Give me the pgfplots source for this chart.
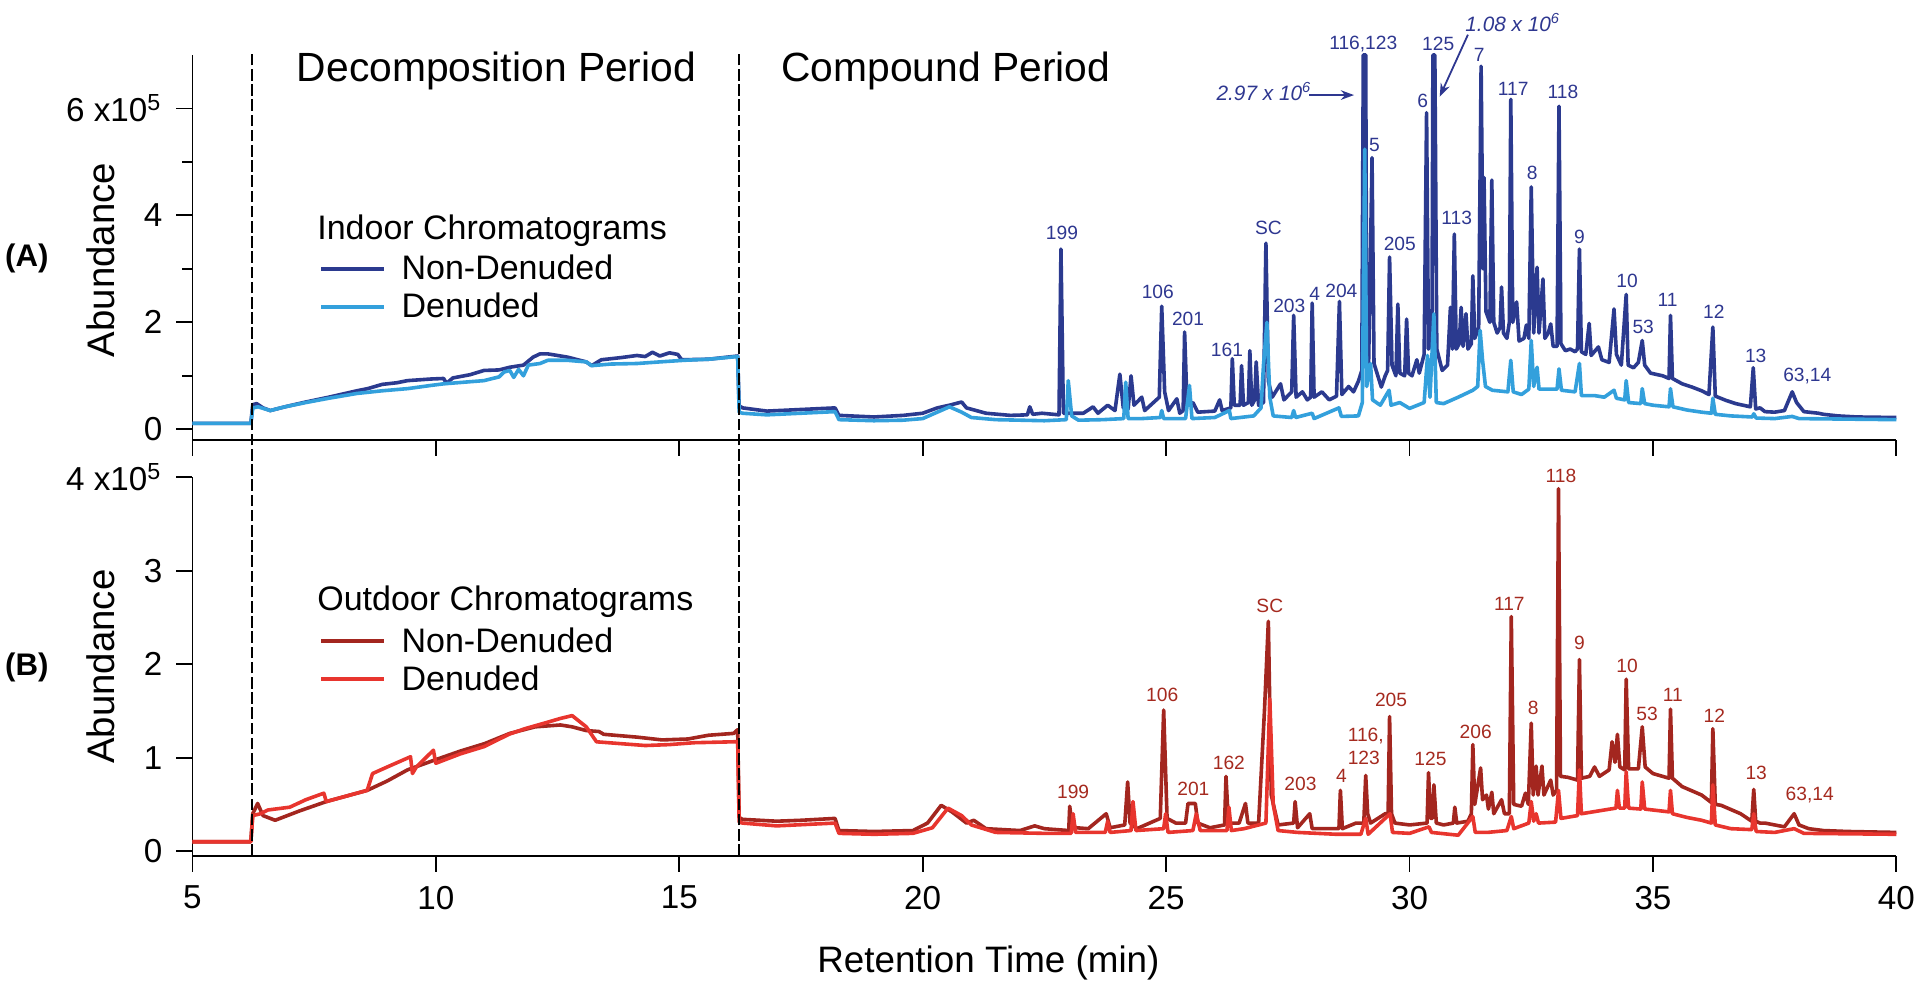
\documentclass[border=0pt]{standalone}
\usepackage{fontspec}
\setmainfont{Liberation Sans}
\usepackage{pgfplots}
\pgfplotsset{compat=1.18}
\usetikzlibrary{arrows.meta}

\definecolor{inND}{HTML}{2B3A8F}
\definecolor{inD}{HTML}{33A0DC}
\definecolor{outND}{HTML}{A3261F}
\definecolor{outD}{HTML}{E8352E}
\definecolor{inlab}{HTML}{2E3790}
\definecolor{outlab}{HTML}{A52A1F}

\newcommand\ticksize{\fontsize{8.3}{9}\selectfont}
\newcommand\pksize{\fontsize{4.8}{5.7}\selectfont}
\newcommand\legsize{\fontsize{8.5}{10}\selectfont}

\pgfplotsset{
  chrom/.style={
    scale only axis, width=426pt,
    xmin=5, xmax=40,
    axis x line*=bottom, axis y line*=left,
    axis line style={-, line width=0.45pt},
    tick align=outside,
    major tick length=4pt, minor tick length=2.5pt,
    tick style={black, line width=0.45pt},
    xtick={5,10,15,20,25,30,35,40},
    yticklabel style={font=\ticksize},
    xticklabel style={font=\ticksize},
    every axis plot/.append style={line width=0.9pt, line join=round},
    clip=false,
  },
}
\tikzset{
  pkA/.style={font=\pksize, text=inlab, inner sep=0pt},
  pkB/.style={font=\pksize, text=outlab, inner sep=0pt},
  period/.style={font=\fontsize{10.2}{12}\selectfont, anchor=west, inner sep=0pt},
  leg/.style={font=\legsize, anchor=west, inner sep=0pt},
  sep/.style={black, line width=0.5pt, dash pattern=on 2.9pt off 0.9pt},
}

\begin{document}
\begin{tikzpicture}
\useasboundingbox (0,0) rectangle (480pt,247.75pt);

% ---------------- (A) indoor ----------------
\begin{axis}[chrom,
  at={(48.1pt,137.75pt)}, anchor=south west, height=96.25pt,
  ymin=-0.2, ymax=7,
  ytick={0,2,4,6}, minor ytick={1,3,5},
  yticklabels={0,2,4,{6 x10\textsuperscript{5}}},
  xticklabels={,,,,,,,},
  xticklabel style={text opacity=0},
]
\addplot[inND] coordinates {
(5.00,0.11) (6.20,0.11) (6.24,0.46) (6.32,0.48) (6.45,0.40) (6.60,0.35) (6.90,0.42)
(7.33,0.51) (7.80,0.60) (8.38,0.72) (8.60,0.76) (8.90,0.84) (9.20,0.87) (9.42,0.91) (9.90,0.94) (10.16,0.95)
(10.22,0.86) (10.35,0.96) (10.70,1.02) (10.99,1.10) (11.30,1.11) (11.52,1.16) (11.80,1.20) (12.00,1.35) (12.14,1.41)
(12.30,1.41) (12.70,1.35) (13.09,1.26) (13.20,1.19) (13.40,1.30) (13.80,1.34) (14.13,1.38)
(14.30,1.36) (14.45,1.44) (14.60,1.37) (14.80,1.43) (14.97,1.40) (15.05,1.30) (15.60,1.31)
(16.20,1.37) (16.23,0.44) (16.30,0.40) (16.80,0.34) (17.50,0.37) (18.20,0.40) (18.28,0.26)
(19.00,0.23) (19.60,0.26) (20.00,0.30) (20.30,0.40) (20.55,0.45) (20.80,0.51) (20.90,0.40)
(21.30,0.30) (21.80,0.26) (22.15,0.27) (22.20,0.42) (22.26,0.28) (22.45,0.30) (22.80,0.27)
(22.84,3.37) (22.89,0.30) (23.30,0.30) (23.50,0.42) (23.60,0.30) (23.80,0.45) (23.95,0.35)
(24.05,1.03) (24.12,0.40) (24.22,0.38) (24.28,1.00) (24.34,0.45) (24.50,0.60) (24.56,0.35)
(24.86,0.60) (24.91,2.30) (24.97,0.70) (25.05,0.35) (25.22,0.57) (25.28,0.30) (25.35,0.35)
(25.38,1.82) (25.43,0.45) (25.55,0.50) (25.65,0.32) (26.00,0.34) (26.10,0.55) (26.15,0.35)
(26.33,0.40) (26.36,1.32) (26.40,0.45) (26.52,0.45) (26.55,1.19) (26.59,0.45) (26.69,0.50)
(26.72,1.47) (26.76,0.45) (26.82,0.55) (26.85,1.26) (26.90,0.45) (27.00,0.50) (27.05,3.48)
(27.10,0.90) (27.18,0.60) (27.35,0.85) (27.42,0.55) (27.58,0.70) (27.62,2.13) (27.67,0.60)
(27.80,0.70) (27.90,0.55) (27.97,0.60) (28.00,2.36) (28.04,0.60) (28.20,0.70) (28.35,0.55)
(28.50,0.62) (28.56,2.39) (28.61,0.65) (28.75,0.80) (28.85,0.70) (28.95,0.90) (29.02,1.10)
(29.05,7.00) (29.10,7.00) (29.12,1.80) (29.16,1.25) (29.23,5.08) (29.27,1.23) (29.42,0.79)
(29.50,1.00) (29.55,1.10) (29.59,3.22) (29.64,1.20) (29.72,1.00) (29.76,2.34) (29.80,1.05)
(29.90,1.00) (29.94,2.06) (29.98,1.05) (30.05,1.00) (30.15,1.30) (30.20,1.05) (30.30,1.40)
(30.35,5.92) (30.39,1.50) (30.46,1.60) (30.48,7.00) (30.52,7.00) (30.56,1.50) (30.67,1.10)
(30.78,1.20) (30.84,2.28) (30.88,1.50) (30.92,3.65) (30.96,1.50) (31.02,1.60) (31.06,2.28)
(31.10,1.55) (31.16,2.16) (31.20,1.50) (31.27,1.60) (31.30,2.87) (31.34,1.70) (31.42,1.90)
(31.47,6.79) (31.51,3.00) (31.53,4.71) (31.57,2.20) (31.65,2.00) (31.69,4.66) (31.73,2.00)
(31.80,1.80) (31.86,1.90) (31.89,2.66) (31.93,1.80) (32.00,1.70) (32.05,2.00) (32.08,6.17)
(32.12,2.00) (32.20,2.38) (32.25,1.65) (32.35,1.70) (32.40,1.95) (32.45,1.70) (32.50,4.53)
(32.55,1.80) (32.62,3.03) (32.66,1.80) (32.74,2.81) (32.78,1.70) (32.85,1.80) (32.90,1.97)
(32.95,1.55) (33.03,1.55) (33.07,6.04) (33.11,1.60) (33.20,1.47) (33.30,1.50) (33.40,1.45)
(33.45,1.50) (33.49,3.37) (33.53,1.45) (33.62,1.40) (33.69,1.98) (33.73,1.38) (33.88,1.54)
(33.95,1.30) (34.10,1.25) (34.20,2.25) (34.25,1.40) (34.35,1.20) (34.45,2.52) (34.49,1.20)
(34.60,1.15) (34.70,1.25) (34.78,1.66) (34.83,1.20) (34.95,1.05) (35.10,1.02) (35.20,1.00)
(35.33,0.95) (35.36,2.13) (35.40,0.95) (35.60,0.85) (35.80,0.79) (36.00,0.72) (36.15,0.65)
(36.23,1.91) (36.28,0.62) (36.50,0.54) (36.70,0.48) (37.00,0.42) (37.06,1.15) (37.11,0.38)
(37.20,0.40) (37.30,0.33) (37.50,0.32) (37.70,0.35) (37.86,0.70) (37.95,0.50) (38.10,0.33)
(38.40,0.30) (38.50,0.28) (38.80,0.25) (39.20,0.23) (40.00,0.22)
};
\addplot[inD] coordinates {
(5.00,0.11) (6.20,0.11) (6.24,0.40) (6.35,0.42) (6.60,0.35) (6.90,0.42) (7.33,0.50)
(7.80,0.58) (8.38,0.67) (8.90,0.72) (9.42,0.76) (9.90,0.82) (10.16,0.85) (10.99,0.91)
(11.30,0.98) (11.40,1.07) (11.52,1.10) (11.60,0.97) (11.70,1.12) (11.80,1.00) (11.90,1.20)
(12.14,1.23) (12.30,1.29) (12.70,1.29) (13.09,1.26) (13.20,1.19) (13.60,1.22) (14.13,1.23)
(14.60,1.26) (15.10,1.29) (15.60,1.31) (16.20,1.36) (16.23,0.32) (16.30,0.30) (16.80,0.27)
(17.50,0.30) (18.20,0.33) (18.28,0.18) (19.00,0.16) (19.60,0.17) (20.00,0.20) (20.30,0.32)
(20.55,0.42) (20.80,0.32) (21.00,0.22) (21.50,0.18) (22.50,0.16) (22.95,0.18) (22.99,0.91)
(23.06,0.25) (23.20,0.17) (23.70,0.18) (24.13,0.20) (24.17,0.88) (24.22,0.20) (24.50,0.20)
(24.88,0.22) (24.91,0.35) (24.95,0.20) (25.40,0.20) (25.48,0.82) (25.53,0.20) (26.00,0.22)
(26.30,0.35) (26.33,0.20) (26.80,0.25) (26.95,0.40) (27.00,1.20) (27.07,2.00) (27.13,0.60)
(27.20,0.25) (27.58,0.22) (27.62,0.35) (27.66,0.22) (28.00,0.30) (28.04,0.20) (28.55,0.40)
(28.60,0.24) (28.95,0.25) (29.03,0.50) (29.08,5.24) (29.12,0.80) (29.20,1.23) (29.24,0.55)
(29.40,0.45) (29.58,0.73) (29.62,0.45) (29.80,0.50) (30.00,0.39) (30.30,0.50) (30.37,1.38)
(30.42,0.60) (30.50,2.16) (30.55,0.50) (30.70,0.48) (31.00,0.60) (31.30,0.73) (31.40,0.80)
(31.45,1.85) (31.50,1.29) (31.56,0.80) (31.70,0.73) (32.02,0.70) (32.08,1.29) (32.13,0.70)
(32.30,0.65) (32.45,0.75) (32.50,1.66) (32.55,0.80) (32.62,1.16) (32.66,0.75) (32.80,0.75)
(33.03,0.75) (33.07,1.13) (33.12,0.73) (33.40,0.70) (33.49,1.23) (33.53,0.63) (33.80,0.63)
(34.00,0.60) (34.20,0.73) (34.25,0.58) (34.42,0.55) (34.45,0.91) (34.50,0.50) (34.75,0.48)
(34.78,0.76) (34.83,0.48) (35.00,0.45) (35.33,0.42) (35.36,0.76) (35.41,0.42) (35.70,0.36)
(36.00,0.32) (36.20,0.30) (36.23,0.58) (36.28,0.28) (36.60,0.25) (37.04,0.23) (37.07,0.29)
(37.12,0.21) (37.50,0.20) (37.86,0.24) (38.00,0.20) (40.00,0.18)
};

\node[period] at (axis cs:7.13,6.70) {Decomposition Period};
\node[period] at (axis cs:17.08,6.70) {Compound Period};

\node[leg] at (axis cs:7.55,3.71) {Indoor Chromatograms};
\draw[inND, line width=1pt] (axis cs:7.65,3.00) -- (axis cs:8.93,3.00);
\node[leg] at (axis cs:9.28,3.02) {Non-Denuded};
\draw[inD, line width=1pt] (axis cs:7.65,2.28) -- (axis cs:8.93,2.28);
\node[leg] at (axis cs:9.28,2.31) {Denuded};

\node[pkA] at (axis cs:22.86,3.67) {199};
\node[pkA] at (axis cs:24.83,2.57) {106};
\node[pkA] at (axis cs:25.45,2.06) {201};
\node[pkA] at (axis cs:26.25,1.49) {161};
\node[pkA] at (axis cs:27.10,3.77) {SC};
\node[pkA] at (axis cs:27.53,2.30) {203};
\node[pkA] at (axis cs:28.05,2.53) {4};
\node[pkA] at (axis cs:28.60,2.59) {204};
\node[pkA] at (axis cs:29.05,7.20) {116,123};
\node[pkA] at (axis cs:29.28,5.31) {5};
\node[pkA] at (axis cs:29.80,3.46) {205};
\node[pkA] at (axis cs:30.27,6.15) {6};
\node[pkA] at (axis cs:30.59,7.21) {125};
\node[pkA] at (axis cs:31.43,7.00) {7};
\node[pkA] at (axis cs:30.97,3.95) {113};
\node[pkA] at (axis cs:32.13,6.37) {117};
\node[pkA] at (axis cs:33.15,6.31) {118};
\node[pkA] at (axis cs:32.52,4.79) {8};
\node[pkA] at (axis cs:33.49,3.60) {9};
\node[pkA] at (axis cs:34.47,2.77) {10};
\node[pkA] at (axis cs:34.80,1.91) {53};
\node[pkA] at (axis cs:35.30,2.42) {11};
\node[pkA] at (axis cs:36.25,2.19) {12};
\node[pkA] at (axis cs:37.11,1.37) {13};
\node[pkA] at (axis cs:38.17,0.99) {63,14};

\node[pkA, font=\fontsize{5.2}{6}\itshape] at (axis cs:27.02,6.32) {2.97 x 10\textsuperscript{6}};
\draw[inlab, line width=0.45pt, -{Stealth[length=3.3pt,width=2.4pt]}]
  (axis cs:27.94,6.25) -- (axis cs:28.86,6.25);
\node[pkA, font=\fontsize{5.2}{6}\itshape] at (axis cs:32.13,7.60) {1.08 x 10\textsuperscript{6}};
\draw[inlab, line width=0.45pt, -{Stealth[length=3.3pt,width=2.4pt]}]
  (axis cs:31.20,7.38) -- (axis cs:30.62,6.22);
\end{axis}

% ---------------- (B) outdoor ----------------
\begin{axis}[chrom,
  at={(48.1pt,33.8pt)}, anchor=south west, height=94.6pt,
  ymin=-0.05, ymax=4,
  ytick={0,1,2,3,4},
  yticklabels={0,1,2,3,{4 x10\textsuperscript{5}}},
  xticklabels={5,10,15,20,25,30,35,40},
]
\addplot[outND] coordinates {
(5.00,0.10) (6.20,0.10) (6.24,0.40) (6.34,0.51) (6.45,0.38) (6.70,0.33) (7.20,0.43)
(7.75,0.53) (8.59,0.65) (9.00,0.75) (9.42,0.87) (9.95,0.97) (10.50,1.07) (11.00,1.15)
(11.52,1.26) (12.04,1.33) (12.56,1.35) (12.80,1.33) (13.09,1.29) (13.35,1.28) (13.45,1.25)
(14.13,1.22) (14.65,1.19) (15.18,1.20) (15.60,1.24) (16.12,1.26) (16.20,1.30) (16.23,0.36)
(16.30,0.34) (17.00,0.32) (17.50,0.33) (18.20,0.35) (18.28,0.22) (19.00,0.21) (19.80,0.22)
(20.10,0.30) (20.38,0.49) (20.60,0.42) (20.90,0.30) (21.05,0.33) (21.30,0.24) (22.00,0.22)
(22.30,0.27) (22.50,0.24) (23.00,0.22) (23.02,0.48) (23.07,0.28) (23.15,0.25) (23.40,0.24)
(23.77,0.40) (23.85,0.25) (24.15,0.28) (24.21,0.74) (24.26,0.30) (24.40,0.24) (24.88,0.35)
(24.95,1.51) (25.02,0.35) (25.20,0.30) (25.40,0.30) (25.45,0.51) (25.60,0.51) (25.65,0.30)
(25.90,0.25) (26.20,0.28) (26.23,0.80) (26.28,0.30) (26.50,0.30) (26.63,0.51) (26.68,0.30)
(26.90,0.30) (27.02,1.50) (27.10,2.46) (27.16,0.60) (27.30,0.28) (27.62,0.30) (27.65,0.53)
(27.70,0.25) (27.95,0.40) (28.00,0.24) (28.40,0.24) (28.55,0.24) (28.58,0.65) (28.62,0.24)
(28.90,0.30) (29.06,0.30) (29.10,0.81) (29.14,0.40) (29.20,0.30) (29.50,0.40) (29.56,0.40)
(29.59,1.44) (29.63,0.40) (29.70,0.30) (30.00,0.28) (30.36,0.30) (30.39,0.84) (30.43,0.35)
(30.47,0.35) (30.50,0.71) (30.55,0.30) (30.70,0.28) (30.90,0.30) (30.93,0.47) (30.97,0.30)
(31.20,0.32) (31.27,0.40) (31.30,1.14) (31.34,0.50) (31.46,0.89) (31.50,0.55) (31.58,0.60)
(31.62,0.45) (31.69,0.63) (31.73,0.40) (31.89,0.55) (31.95,0.40) (32.05,0.40) (32.09,2.51)
(32.14,0.50) (32.30,0.48) (32.38,0.62) (32.44,0.50) (32.50,1.37) (32.54,0.60) (32.60,0.91)
(32.64,0.60) (32.72,0.91) (32.76,0.60) (32.90,0.76) (32.95,0.60) (33.02,0.65) (33.06,3.88)
(33.10,0.80) (33.25,0.79) (33.45,0.76) (33.49,2.05) (33.53,0.78) (33.70,0.80) (33.80,0.90)
(33.90,0.80) (34.10,0.87) (34.16,1.17) (34.22,0.95) (34.27,1.25) (34.32,0.90) (34.42,0.87)
(34.45,1.84) (34.50,0.88) (34.70,0.88) (34.78,1.33) (34.84,0.90) (35.00,0.83) (35.33,0.78)
(35.36,1.52) (35.40,0.78) (35.60,0.69) (36.00,0.60) (36.20,0.52) (36.23,1.31) (36.28,0.50)
(36.40,0.49) (36.80,0.40) (37.03,0.32) (37.07,0.66) (37.11,0.32) (37.20,0.30) (37.30,0.30)
(37.70,0.26) (37.90,0.40) (38.00,0.28) (38.20,0.24) (38.50,0.22) (39.00,0.21) (40.00,0.20)
};
\addplot[outD] coordinates {
(5.00,0.10) (6.20,0.10) (6.24,0.38) (6.40,0.40) (6.55,0.44) (7.00,0.47) (7.33,0.55)
(7.70,0.62) (7.75,0.53) (8.59,0.65) (8.70,0.83) (9.00,0.90) (9.48,1.01) (9.52,0.83)
(9.60,0.90) (9.95,1.08) (10.00,0.94) (10.50,1.04) (11.00,1.12) (11.50,1.25) (11.83,1.31)
(12.30,1.38) (12.56,1.42) (12.80,1.45) (13.09,1.33) (13.30,1.17) (13.80,1.15) (14.30,1.13)
(14.80,1.14) (15.30,1.16) (16.12,1.17) (16.20,1.17) (16.23,0.31) (16.30,0.30) (17.00,0.27)
(18.20,0.30) (18.28,0.19) (19.00,0.18) (19.80,0.19) (20.20,0.25) (20.52,0.46) (20.80,0.38)
(21.00,0.28) (21.50,0.20) (22.50,0.19) (23.05,0.19) (23.09,0.40) (23.14,0.20) (23.75,0.20)
(23.80,0.32) (23.85,0.20) (24.28,0.22) (24.32,0.53) (24.38,0.22) (24.95,0.24) (24.99,0.40)
(25.04,0.20) (25.55,0.22) (25.62,0.40) (25.70,0.22) (26.25,0.22) (26.29,0.47) (26.34,0.22)
(26.60,0.24) (27.05,0.30) (27.13,1.63) (27.20,0.50) (27.30,0.22) (27.70,0.20) (28.50,0.18)
(29.00,0.18) (29.10,0.35) (29.15,0.18) (29.60,0.40) (29.65,0.20) (30.00,0.19) (30.40,0.26)
(30.45,0.20) (31.00,0.17) (31.30,0.37) (31.35,0.20) (31.60,0.20) (32.00,0.22) (32.09,0.37)
(32.14,0.24) (32.45,0.30) (32.50,0.53) (32.55,0.32) (32.60,0.40) (32.65,0.30) (33.00,0.31)
(33.06,0.65) (33.11,0.35) (33.45,0.38) (33.49,0.87) (33.53,0.40) (34.00,0.44) (34.24,0.46)
(34.27,0.65) (34.31,0.46) (34.42,0.46) (34.45,0.85) (34.50,0.46) (34.75,0.45) (34.78,0.74)
(34.83,0.45) (35.33,0.42) (35.36,0.65) (35.40,0.40) (35.70,0.36) (36.00,0.33) (36.20,0.30)
(36.23,0.71) (36.28,0.28) (36.60,0.24) (37.03,0.23) (37.07,0.40) (37.12,0.21) (37.50,0.20)
(37.90,0.24) (38.10,0.19) (40.00,0.18)
};

\draw[sep] (axis cs:6.22,-0.05) -- (axis cs:6.22,8.53);
\draw[sep] (axis cs:16.22,-0.05) -- (axis cs:16.22,8.53);

\node[leg] at (axis cs:7.55,2.67) {Outdoor Chromatograms};
\draw[outND, line width=1pt] (axis cs:7.65,2.25) -- (axis cs:8.93,2.25);
\node[leg] at (axis cs:9.28,2.26) {Non-Denuded};
\draw[outD, line width=1pt] (axis cs:7.65,1.84) -- (axis cs:8.93,1.84);
\node[leg] at (axis cs:9.28,1.85) {Denuded};

\node[pkB] at (axis cs:23.09,0.63) {199};
\node[pkB] at (axis cs:24.92,1.67) {106};
\node[pkB] at (axis cs:25.56,0.67) {201};
\node[pkB] at (axis cs:26.29,0.94) {162};
\node[pkB] at (axis cs:27.13,2.62) {SC};
\node[pkB] at (axis cs:27.76,0.72) {203};
\node[pkB] at (axis cs:28.60,0.81) {4};
\node[pkB, align=left] at (axis cs:29.10,1.12) {116,\\123};
\node[pkB] at (axis cs:29.62,1.62) {205};
\node[pkB] at (axis cs:30.43,0.99) {125};
\node[pkB] at (axis cs:31.36,1.28) {206};
\node[pkB] at (axis cs:32.05,2.65) {117};
\node[pkB] at (axis cs:32.54,1.53) {8};
\node[pkB] at (axis cs:33.11,4.02) {118};
\node[pkB] at (axis cs:33.49,2.23) {9};
\node[pkB] at (axis cs:34.47,1.98) {10};
\node[pkB] at (axis cs:34.88,1.47) {53};
\node[pkB] at (axis cs:35.41,1.67) {11};
\node[pkB] at (axis cs:36.26,1.45) {12};
\node[pkB] at (axis cs:37.12,0.84) {13};
\node[pkB] at (axis cs:38.22,0.60) {63,14};
\end{axis}

\node[font=\fontsize{7.8}{9}\bfseries] at (6.7pt,183.25pt) {(A)};
\node[font=\fontsize{7.8}{9}\bfseries] at (6.7pt,81pt) {(B)};
\node[font=\fontsize{9.6}{11}\selectfont, rotate=90] at (25.1pt,182.75pt) {Abundance};
\node[font=\fontsize{9.6}{11}\selectfont, rotate=90] at (25.1pt,81.1pt) {Abundance};
\node[font=\fontsize{9.2}{11}\selectfont] at (247.1pt,7pt) {Retention Time (min)};
\end{tikzpicture}
\end{document}
